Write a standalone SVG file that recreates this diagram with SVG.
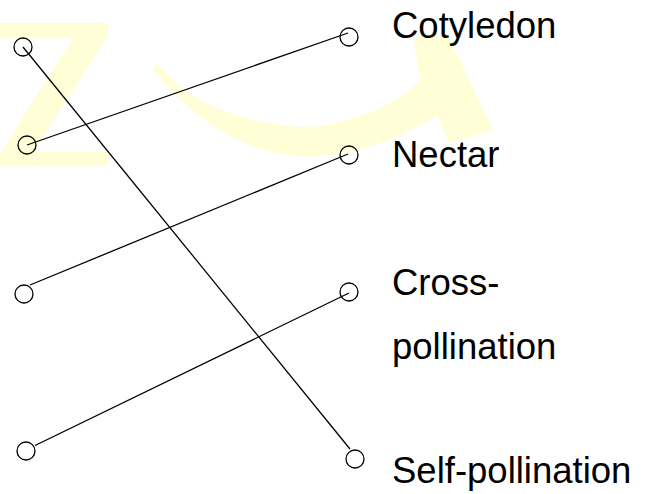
<svg xmlns="http://www.w3.org/2000/svg" width="648" height="494" viewBox="0 0 648 494">
  <style>
    .dot { fill: none; stroke: #000; stroke-width: 1.3; }
    .wire { stroke: #000; stroke-width: 1.3; fill: none; }
    .lbl { font-family: "Liberation Sans", Arial, sans-serif; font-size: 36.5px; fill: #000; }
    .wm { fill: #FFFED6; stroke: none; }
  </style>
  <rect width="648" height="494" fill="#fff"/>
  <g id="watermark">
    <polygon class="wm" points="0,23 108,23 108,36 33,152 107,152 107,166 0,166 0,154 73,38 0,38"/>
    <path class="wm" d="M157,63 C185,100 235,122 300,127 C350,126 395,106 420,80 L413,37 L447,34 L493,130 L449,143 L437,115 C410,132 370,152 320,156 C258,160 197,127 153,69 Z"/>
  </g>
  <g id="connectors">
    <line class="wire" x1="23" y1="47" x2="350" y2="449"/>
    <line class="wire" x1="27" y1="145" x2="348" y2="33"/>
    <line class="wire" x1="30" y1="285" x2="348" y2="154"/>
    <line class="wire" x1="35" y1="445.5" x2="349" y2="293"/>
  </g>
  <g id="left-1"><circle class="dot" cx="23" cy="47" r="9"/></g>
  <g id="left-2"><circle class="dot" cx="27" cy="145" r="9"/></g>
  <g id="left-3"><circle class="dot" cx="24" cy="294" r="9"/></g>
  <g id="left-4"><circle class="dot" cx="26" cy="451" r="9"/></g>
  <g id="right-cotyledon">
    <circle class="dot" cx="349" cy="37" r="9"/>
    <text class="lbl" x="392" y="37.7">Cotyledon</text>
  </g>
  <g id="right-nectar">
    <circle class="dot" cx="349" cy="155" r="9"/>
    <text class="lbl" x="392" y="166.7">Nectar</text>
  </g>
  <g id="right-cross-pollination">
    <circle class="dot" cx="349" cy="292" r="9"/>
    <text class="lbl" x="392" y="295">Cross-</text>
    <text class="lbl" x="392" y="359">pollination</text>
  </g>
  <g id="right-self-pollination">
    <circle class="dot" cx="355" cy="459" r="9"/>
    <text class="lbl" x="392" y="482.7">Self-pollination</text>
  </g>
</svg>
